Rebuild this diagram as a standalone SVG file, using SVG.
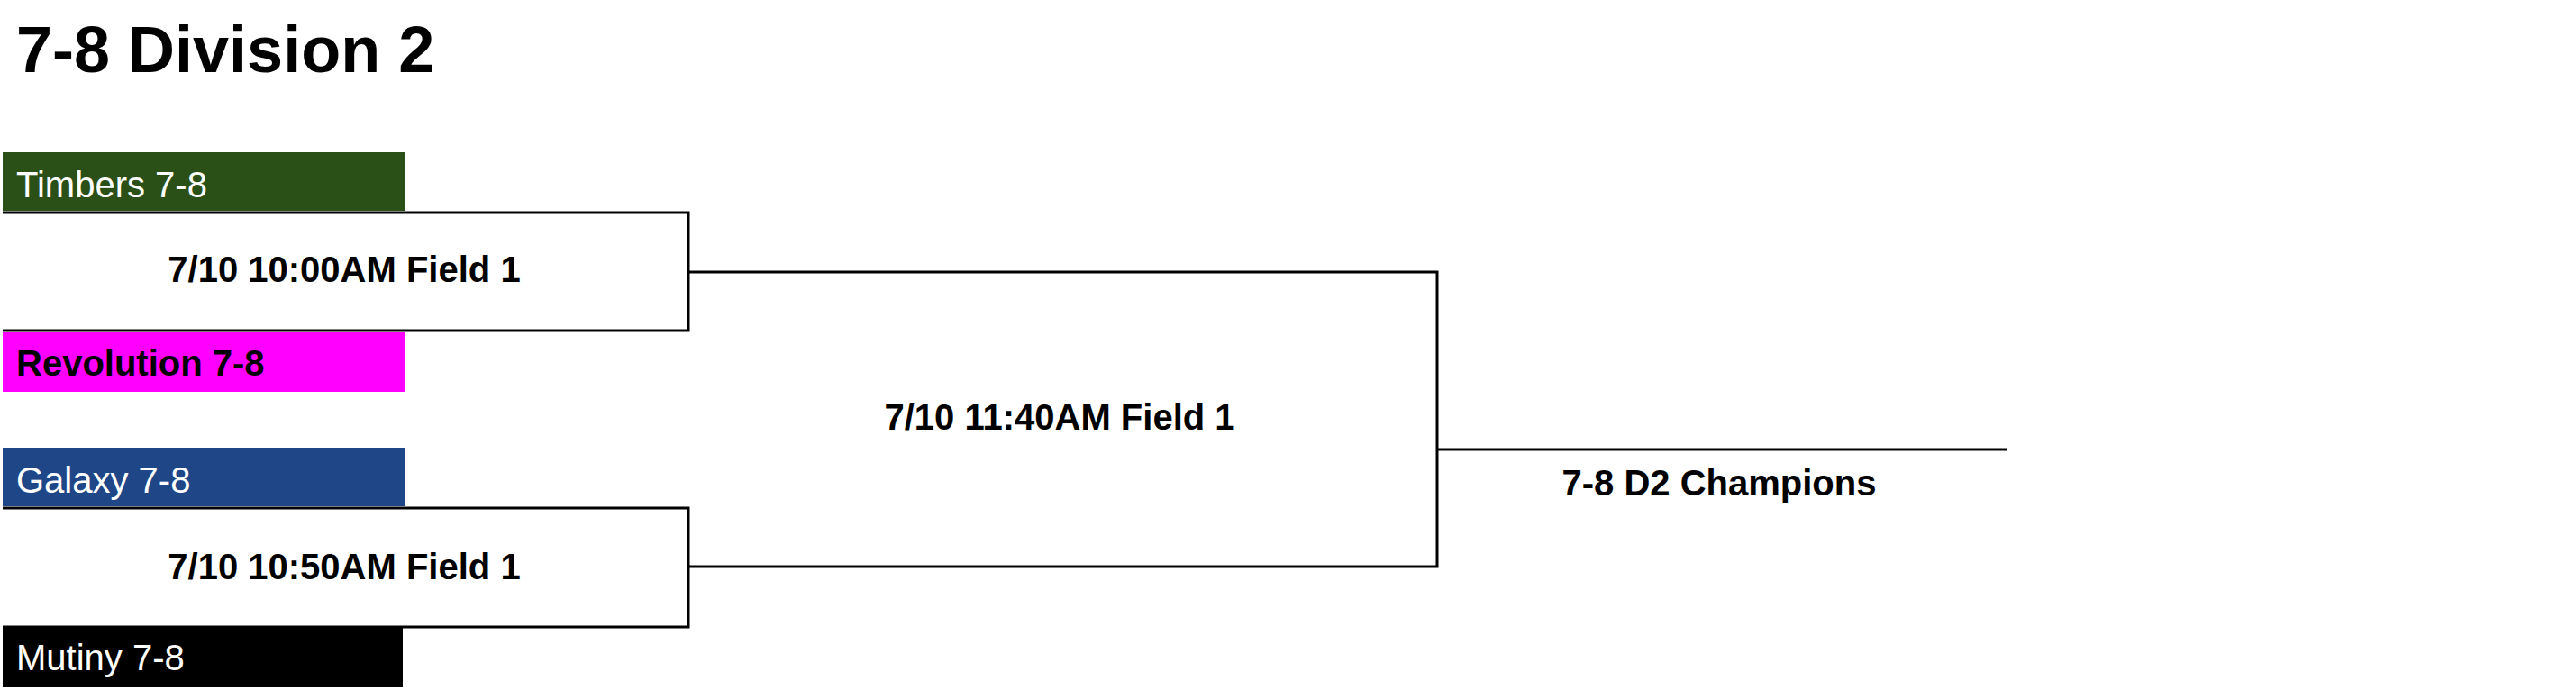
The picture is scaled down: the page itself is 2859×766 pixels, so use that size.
<svg xmlns="http://www.w3.org/2000/svg" width="2859" height="766" viewBox="0 0 2859 766">
<style>
.t{font-family:"Liberation Sans",Arial,sans-serif;font-size:40px}
.b{font-weight:bold}
.w{fill:#ffffff}
.k{fill:#000000}
.ln{fill:none;stroke:#000000;stroke-width:3}
</style>
<rect width="2859" height="766" fill="#ffffff"/>
<text x="18" y="80" font-family="Liberation Sans,Arial,sans-serif" font-weight="bold" font-size="72">7-8 Division 2</text>
<g id="connectors">
<polyline class="ln" points="3,236 764,236 764,367 3,367"/>
<polyline class="ln" points="3,564 764,564 764,696 3,696"/>
<polyline class="ln" points="764,302 1595,302 1595,629 764,629"/>
<line class="ln" x1="1595" y1="499" x2="2228" y2="499"/>
</g>
<g id="team-timbers">
<rect x="3" y="169" width="447" height="65" fill="#2b5017"/>
<text class="t w" x="18" y="219">Timbers 7-8</text>
</g>
<g id="team-revolution">
<rect x="3" y="369" width="447" height="66" fill="#ff00ff"/>
<text class="t b k" x="18" y="417">Revolution 7-8</text>
</g>
<g id="team-galaxy">
<rect x="3" y="497" width="447" height="65" fill="#1f4788"/>
<text class="t w" x="18" y="547">Galaxy 7-8</text>
</g>
<g id="team-mutiny">
<rect x="3" y="697" width="444" height="66" fill="#000000"/>
<text class="t w" x="18" y="744">Mutiny 7-8</text>
</g>
<g id="match-1">
<text class="t b k" x="382" y="313" text-anchor="middle">7/10 10:00AM Field 1</text>
</g>
<g id="match-2">
<text class="t b k" x="382" y="643" text-anchor="middle">7/10 10:50AM Field 1</text>
</g>
<g id="match-3">
<text class="t b k" x="1176" y="477" text-anchor="middle">7/10 11:40AM Field 1</text>
</g>
<g id="champion">
<text class="t b k" x="1908" y="550" text-anchor="middle">7-8 D2 Champions</text>
</g>
</svg>
